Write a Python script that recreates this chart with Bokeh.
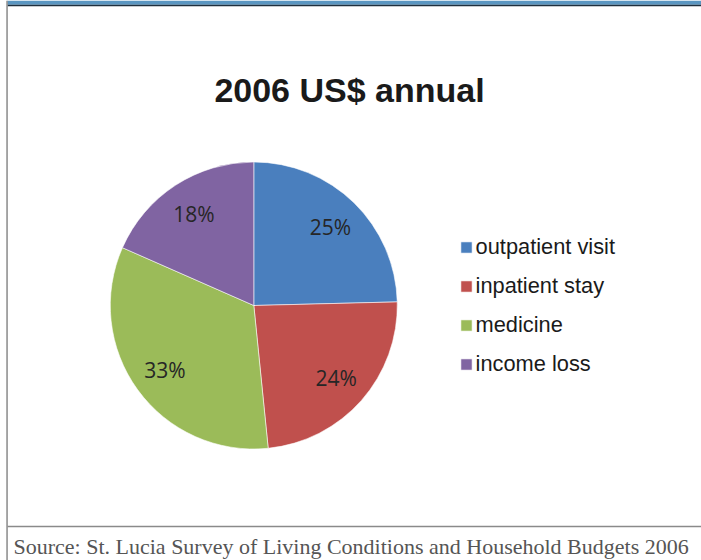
import numpy as np
from bokeh.plotting import figure
from bokeh.models import Range1d, Label, BoxAnnotation, Legend, LegendItem
from bokeh.core.properties import value
from bokeh.embed import file_html
from bokeh.resources import INLINE

# ---- data ----
categories = ["outpatient visit", "inpatient stay", "medicine", "income loss"]
shares = [24.6, 23.8, 33.2, 18.4]          # percent of annual cost
labels = ["25%", "24%", "33%", "18%"]
colors = ["#4a7fbe", "#c0504d", "#9bbb59", "#8064a2"]
title_text = "2006 US$ annual"
source_text = "Source: St. Lucia Survey of Living Conditions and Household Budgets 2006"

W, H = 701, 560
p = figure(width=W, height=H, x_range=Range1d(0, W), y_range=Range1d(0, H),
           output_backend="svg", toolbar_location=None, min_border=0)
p.axis.visible = False
p.grid.visible = False
p.outline_line_color = None
p.background_fill_color = "white"
p.border_fill_color = "white"

# ---- frame decorations ----
p.add_layout(BoxAnnotation(left=7, right=W, bottom=H - 4.3, top=H, fill_color="#5a96c1",
                           fill_alpha=1, line_color=None, level="underlay"))
p.add_layout(BoxAnnotation(left=7, right=W, bottom=H - 5.8, top=H - 4.3, fill_color="#1e2f3d",
                           fill_alpha=1, line_color=None, level="underlay"))
p.add_layout(BoxAnnotation(left=5.8, right=7.3, bottom=0, top=H, fill_color="#8a8a8a",
                           fill_alpha=1, line_color=None, level="underlay"))
p.add_layout(BoxAnnotation(left=7, right=W, bottom=H - 526.8, top=H - 525.2, fill_color="#8a8a8a",
                           fill_alpha=1, line_color=None, level="underlay"))

# ---- pie ----
cx, cy, R = 253.3, H - 305.0, 143.5
frac = np.array(shares) / sum(shares)
cum = np.concatenate([[0], np.cumsum(frac)])
start = np.pi / 2 - 2 * np.pi * cum[:-1]
end = np.pi / 2 - 2 * np.pi * cum[1:]
mid = (start + end) / 2

items = []
for i, cat in enumerate(categories):
    r = p.wedge(x=cx, y=cy, radius=R, start_angle=start[i], end_angle=end[i],
                direction="clock", fill_color=colors[i], line_color="white",
                line_width=0.8, line_alpha=0.7)
    items.append(LegendItem(label=cat, renderers=[r]))

lr = 0.765 * R
p.text(x=cx + lr * np.cos(mid), y=cy + lr * np.sin(mid), text=labels,
       text_font=value("Open Sans"), text_font_size="21px", text_color="#262626",
       text_align="center", text_baseline="middle")

legend = Legend(items=items, location=(458.6, H - 376.5), orientation="vertical",
                glyph_width=14, glyph_height=14, label_height=25, spacing=13,
                label_standoff=3, padding=0, margin=0,
                label_text_font="Liberation Sans", label_text_font_size="21.8px",
                label_text_color="#1a1a1a", border_line_color=None,
                background_fill_alpha=0)
p.add_layout(legend, "center")

# ---- texts ----
p.add_layout(Label(x=349, y=H - 89.5, text=title_text, text_align="center",
                   text_baseline="middle", text_font="Liberation Sans",
                   text_font_style="bold", text_font_size="34px", text_color="#1a1a1a"))
p.add_layout(Label(x=13, y=H - 546, text=source_text, text_align="left",
                   text_baseline="middle", text_font="Liberation Serif",
                   text_font_size="22px", text_color="#555555"))

open("out.html", "w").write(file_html(p, INLINE))
